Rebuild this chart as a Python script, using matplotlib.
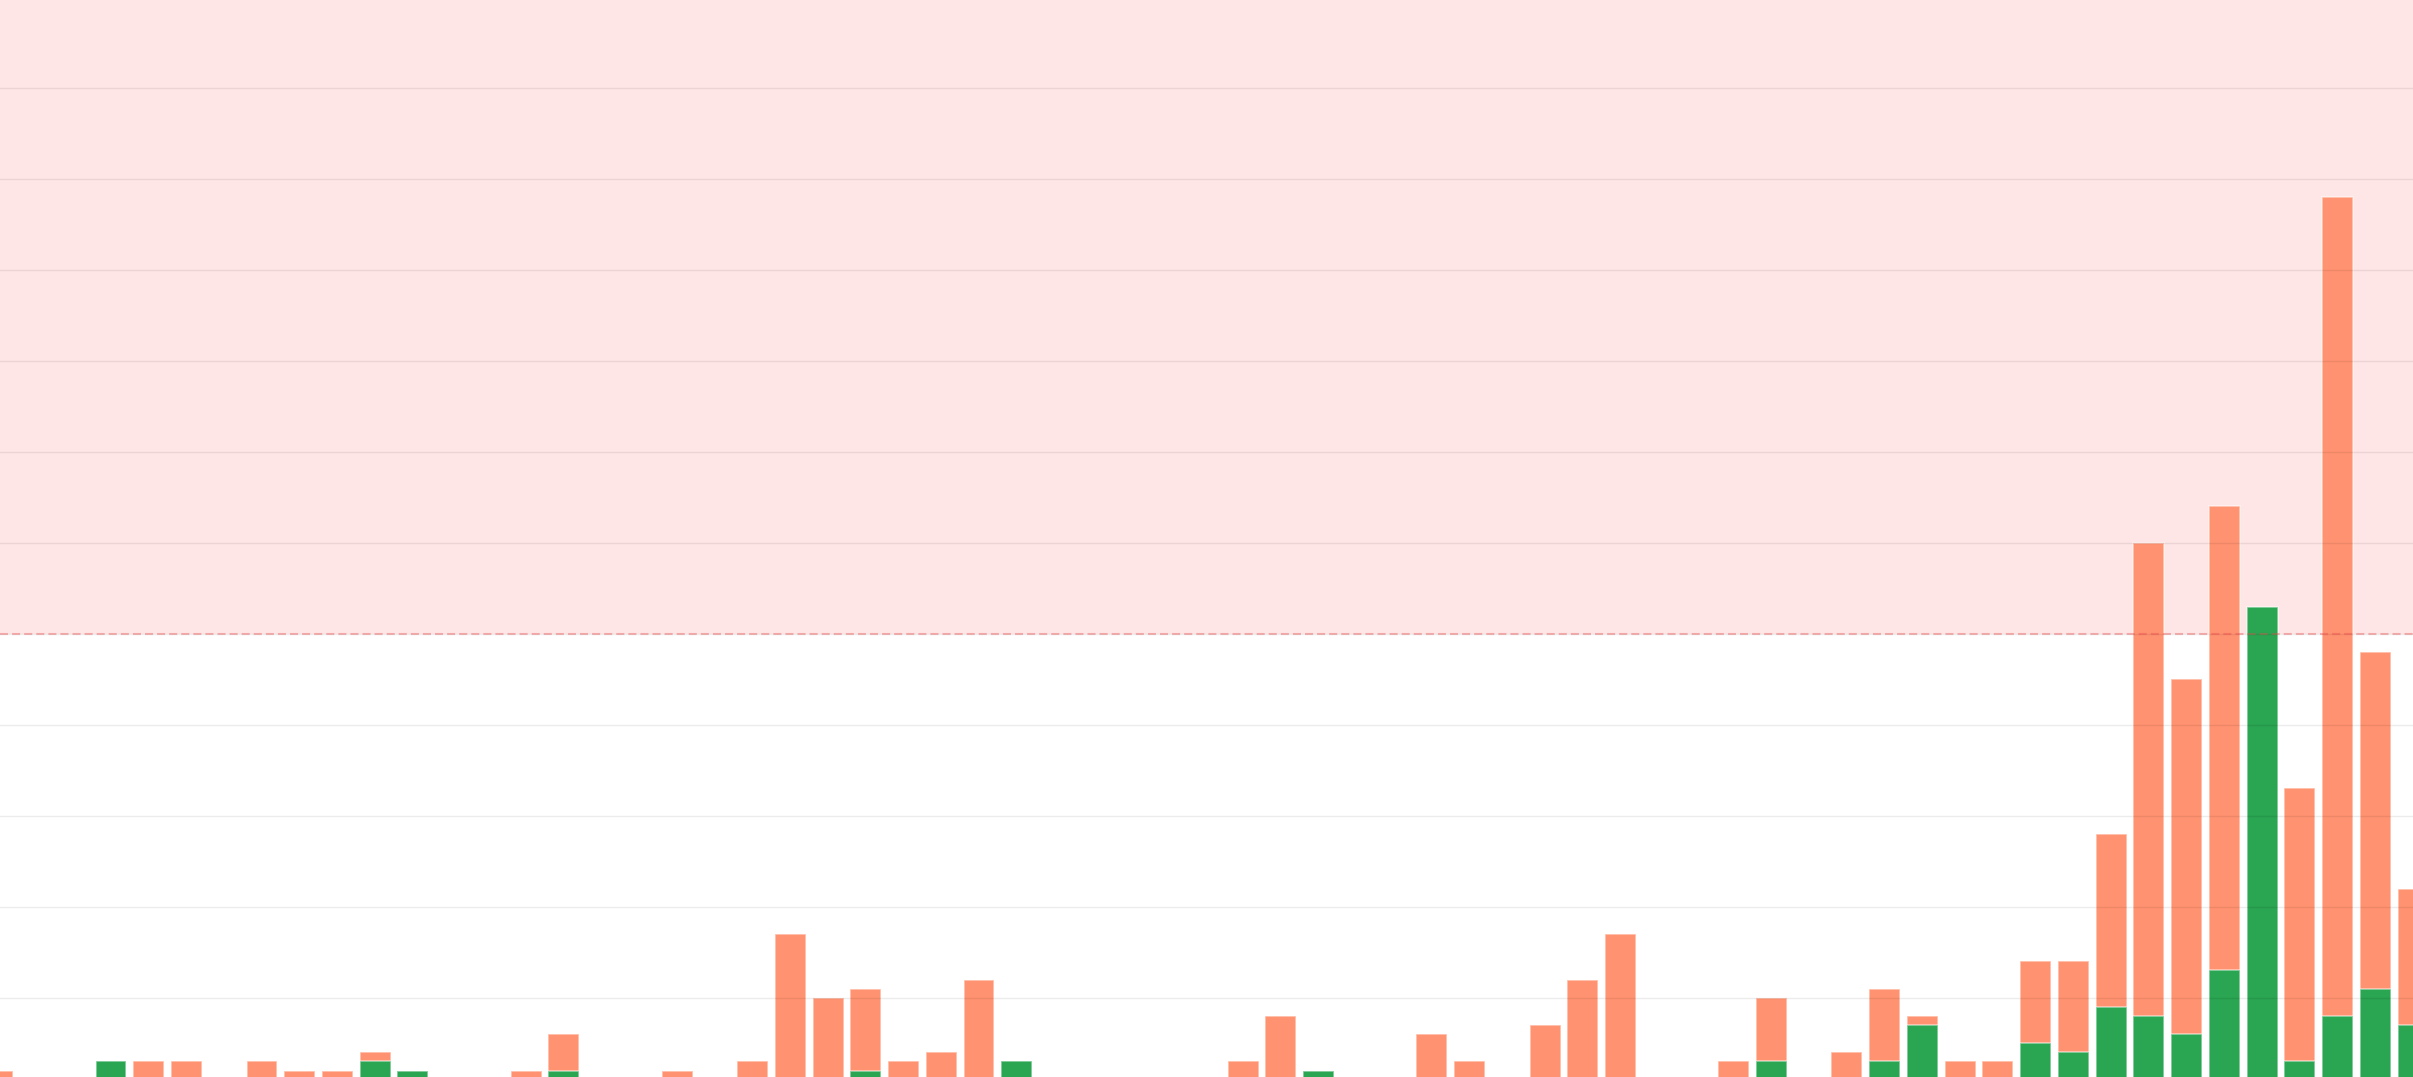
import matplotlib
matplotlib.use('Agg')
import matplotlib.pyplot as plt

plt.rcParams['lines.scale_dashes'] = False

# slot index of each bar
slots = list(range(65))
# orange series (drawn behind)
orange = [2, 0, 0, 0, 3, 3, 0, 3, 2, 2,
          4, 0, 0, 0, 2, 6, 0, 0, 2, 0,
          3, 17, 10, 11, 3, 4, 12, 0, 0, 0,
          0, 0, 0, 3, 8, 0, 0, 0, 6, 3,
          0, 7, 12, 17, 0, 0, 3, 10, 0, 4,
          11, 8, 3, 3, 14, 14, 28, 60, 45, 64,
          47, 33, 98, 48, 22]
# green series (drawn in front)
green = [0, 0, 0, 3, 0, 0, 0, 0, 0, 0,
         3, 2, 0, 0, 0, 2, 0, 0, 0, 0,
         0, 0, 0, 2, 0, 0, 0, 3, 0, 0,
         0, 0, 0, 0, 0, 2, 0, 0, 0, 0,
         0, 0, 0, 0, 0, 0, 0, 3, 0, 0,
         3, 7, 0, 0, 5, 4, 9, 8, 6, 13,
         53, 3, 8, 11, 7]
threshold = 50
grid_values = [10, 20, 30, 40, 50, 60, 70, 80, 90, 100, 110]

fig = plt.figure(figsize=(24.13, 10.77), dpi=100)
ax = fig.add_axes([0, 0, 1, 1])
ax.set_xlim(0.058, 64.0)
ax.set_ylim(1.29, 119.66)
ax.axis('off')

# pink zone above threshold
ax.axhspan(threshold, 200, color='#FFE6E6', zorder=0, lw=0)

ax.bar(slots, orange, width=0.82, color='#FF9270',
       edgecolor=(1, 1, 1, 0.55), linewidth=1.1, zorder=2)
ax.bar(slots, green, width=0.82, color='#2AA552',
       edgecolor=(1, 1, 1, 0.55), linewidth=1.1, zorder=3)

for g in grid_values:
    ax.axhline(g, color=(0, 0, 0, 0.075), linewidth=1.0, zorder=4)

ax.axhline(threshold, color=(0.9, 0.3, 0.3, 0.4), linewidth=1.5,
           linestyle=(0, (5.8, 2.9)), zorder=5)

fig.savefig('out.png', dpi=100)
